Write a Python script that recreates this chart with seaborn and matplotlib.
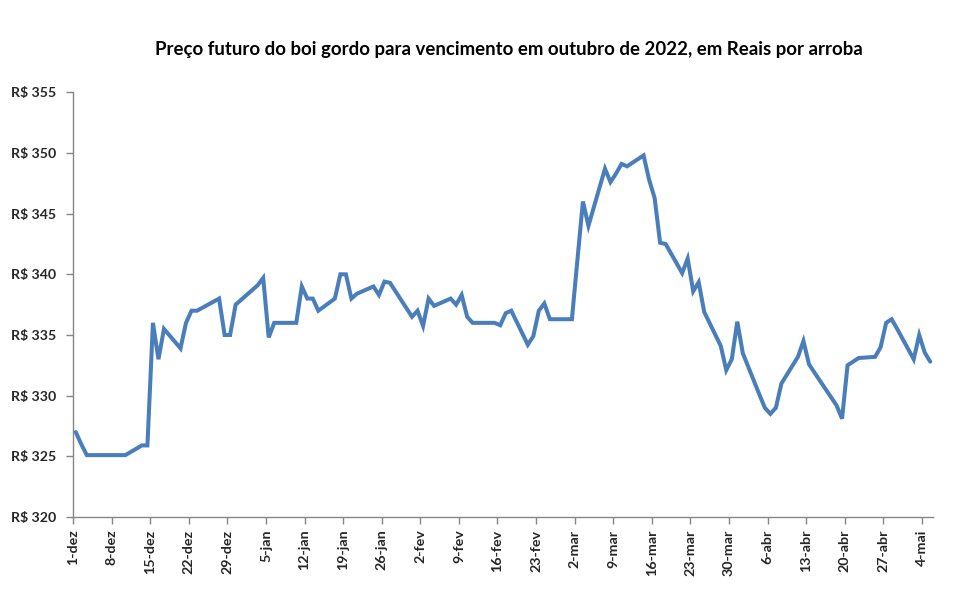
import matplotlib
matplotlib.use("Agg")
import matplotlib.pyplot as plt
import seaborn as sns
import pandas as pd

# ---- data ----
dates = [
    "2021-12-01", "2021-12-02", "2021-12-03",
    "2021-12-06", "2021-12-07", "2021-12-08", "2021-12-09", "2021-12-10",
    "2021-12-13", "2021-12-14", "2021-12-15", "2021-12-16", "2021-12-17",
    "2021-12-20", "2021-12-21", "2021-12-22", "2021-12-23",
    "2021-12-27", "2021-12-28", "2021-12-29", "2021-12-30",
    "2022-01-03", "2022-01-04", "2022-01-05", "2022-01-06", "2022-01-07",
    "2022-01-10", "2022-01-11", "2022-01-12", "2022-01-13", "2022-01-14",
    "2022-01-17", "2022-01-18", "2022-01-19", "2022-01-20", "2022-01-21",
    "2022-01-24", "2022-01-25", "2022-01-26", "2022-01-27", "2022-01-28",
    "2022-01-31", "2022-02-01", "2022-02-02", "2022-02-03", "2022-02-04",
    "2022-02-07", "2022-02-08", "2022-02-09", "2022-02-10", "2022-02-11",
    "2022-02-14", "2022-02-15", "2022-02-16", "2022-02-17", "2022-02-18",
    "2022-02-21", "2022-02-22", "2022-02-23", "2022-02-24", "2022-02-25",
    "2022-02-28", "2022-03-01", "2022-03-02", "2022-03-03", "2022-03-04",
    "2022-03-07", "2022-03-08", "2022-03-09", "2022-03-10", "2022-03-11",
    "2022-03-14", "2022-03-15", "2022-03-16", "2022-03-17", "2022-03-18",
    "2022-03-21", "2022-03-22", "2022-03-23", "2022-03-24", "2022-03-25",
    "2022-03-28", "2022-03-29", "2022-03-30", "2022-03-31", "2022-04-01",
    "2022-04-04", "2022-04-05", "2022-04-06", "2022-04-07", "2022-04-08",
    "2022-04-11", "2022-04-12", "2022-04-13", "2022-04-14",
    "2022-04-18", "2022-04-19", "2022-04-20", "2022-04-22",
    "2022-04-25", "2022-04-26", "2022-04-27", "2022-04-28", "2022-04-29",
    "2022-05-02", "2022-05-03", "2022-05-04", "2022-05-05",
]
prices = [
    327.0, 326.0, 325.1,
    325.1, 325.1, 325.1, 325.1, 325.1,
    325.9, 325.9, 336.0, 333.0, 335.5,
    333.9, 336.0, 337.0, 337.0,
    338.0, 335.0, 335.0, 337.5,
    339.1, 339.7, 334.8, 336.0, 336.0,
    336.0, 339.0, 338.0, 338.0, 337.0,
    338.0, 340.0, 340.0, 338.0, 338.4,
    339.0, 338.3, 339.4, 339.3, 338.6,
    336.5, 337.0, 335.75, 338.0, 337.4,
    338.0, 337.5, 338.3, 336.5, 336.0,
    336.0, 336.0, 335.8, 336.8, 337.0,
    334.2, 334.9, 337.0, 337.6, 336.3,
    336.3, 336.3, 341.2, 346.0, 344.0,
    348.7, 347.6, 348.3, 349.1, 348.9,
    349.8, 347.8, 346.3, 342.6, 342.5,
    340.1, 341.3, 338.6, 339.35, 336.9,
    334.1, 332.1, 333.0, 336.1, 333.5,
    330.1, 329.0, 328.5, 329.0, 331.0,
    333.2, 334.5, 332.6, 331.9,
    329.2, 328.1, 332.5, 333.1,
    333.2, 334.0, 336.0, 336.3, 335.5,
    333.0, 335.0, 333.55, 332.8,
]
tick_dates = [
    "2021-12-01", "2021-12-08", "2021-12-15", "2021-12-22", "2021-12-29",
    "2022-01-05", "2022-01-12", "2022-01-19", "2022-01-26",
    "2022-02-02", "2022-02-09", "2022-02-16", "2022-02-23",
    "2022-03-02", "2022-03-09", "2022-03-16", "2022-03-23", "2022-03-30",
    "2022-04-06", "2022-04-13", "2022-04-20", "2022-04-27", "2022-05-04",
]
tick_labels = [
    "1-dez", "8-dez", "15-dez", "22-dez", "29-dez",
    "5-jan", "12-jan", "19-jan", "26-jan",
    "2-fev", "9-fev", "16-fev", "23-fev",
    "2-mar", "9-mar", "16-mar", "23-mar", "30-mar",
    "6-abr", "13-abr", "20-abr", "27-abr", "4-mai",
]
y_ticks = [320, 325, 330, 335, 340, 345, 350, 355]
y_tick_labels = ["R$ 320", "R$ 325", "R$ 330", "R$ 335",
                 "R$ 340", "R$ 345", "R$ 350", "R$ 355"]
title = "Preço futuro do boi gordo para vencimento em outubro de 2022, em Reais por arroba"

# ---- style ----
sns.set_style("white")
plt.rcParams['font.family'] = ['Lato', 'DejaVu Sans']

fig = plt.figure(figsize=(9.61, 5.94), dpi=100)
ax = fig.add_axes([73 / 961, 1 - 517 / 594, (933 - 73) / 961, (517 - 92.3) / 594])

df = pd.DataFrame({
    "data": pd.to_datetime(dates) + pd.Timedelta(hours=12),
    "preco": prices,
})
sns.lineplot(data=df, x="data", y="preco", ax=ax, color="#4A7EBB",
             linewidth=2.9, solid_joinstyle="miter")

ax.set_xlim(pd.Timestamp("2021-12-01"), pd.Timestamp("2022-05-06"))
ax.set_ylim(320, 355)
ax.set_xticks(pd.to_datetime(tick_dates))
ax.set_xticklabels(tick_labels, rotation=90, fontweight="bold", fontsize=10.3)
ax.set_yticks(y_ticks)
ax.set_yticklabels(y_tick_labels, fontweight="bold", fontsize=10.2)
ax.set_xlabel("")
ax.set_ylabel("")

for s in ["top", "right"]:
    ax.spines[s].set_visible(False)
for s in ["left", "bottom"]:
    ax.spines[s].set_color("#868686")
    ax.spines[s].set_linewidth(1.0)
ax.tick_params(axis="both", which="major", direction="out", length=5,
               width=1, color="#868686", bottom=True, left=True)
ax.tick_params(axis="x", pad=4)
ax.tick_params(axis="y", pad=7)

fig.text(0.5 * (155 + 862) / 961, 1 - 50 / 594, title, ha="center", va="center",
         fontsize=13.4, fontweight="bold", color="black")

fig.savefig("out.png", dpi=100)
